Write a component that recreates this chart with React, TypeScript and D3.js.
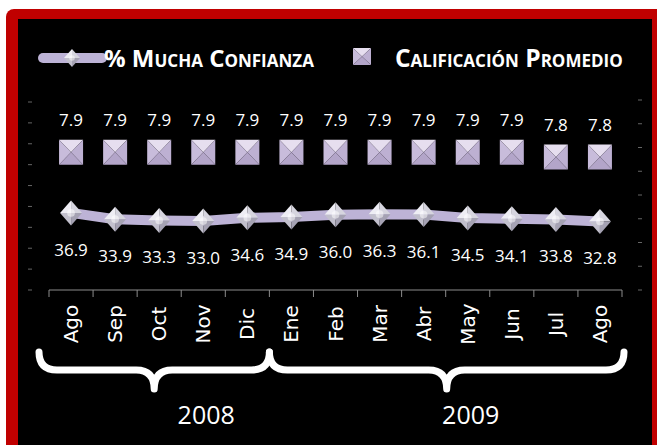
import React from 'react';
import * as d3 from 'd3';

const months = ['Ago', 'Sep', 'Oct', 'Nov', 'Dic', 'Ene', 'Feb', 'Mar', 'Abr', 'May', 'Jun', 'Jul', 'Ago'];
const muchaConfianza = [36.9, 33.9, 33.3, 33.0, 34.6, 34.9, 36.0, 36.3, 36.1, 34.5, 34.1, 33.8, 32.8];
const calificacion = [7.9, 7.9, 7.9, 7.9, 7.9, 7.9, 7.9, 7.9, 7.9, 7.9, 7.9, 7.8, 7.8];
const years = [
  { label: '2008', from: 0, to: 4, shift: 52 },
  { label: '2009', from: 5, to: 12, shift: 24 },
];

const W = 657;
const H = 445;
const LAV = '#bdb3d6';
const FONT = '"Open Sans", sans-serif';

const Diamond: React.FC<{ cx: number; cy: number; rx: number; ry: number }> = ({ cx, cy, rx, ry }) => (
  <g transform={`translate(${cx},${cy})`}>
    <path d={`M0,${-ry}L${rx},0L0,0Z`} fill="#d6d5df" />
    <path d={`M0,${-ry}L${-rx},0L0,0Z`} fill="#eeedf4" />
    <path d={`M${-rx},0L0,${ry}L0,0Z`} fill="#c2c0cd" />
    <path d={`M${rx},0L0,${ry}L0,0Z`} fill="#a5a2b3" />
    <circle r={rx * 0.35} fill="#ffffff" opacity={0.5} />
  </g>
);

const Pyramid: React.FC<{ cx: number; cy: number; w: number; h: number }> = ({ cx, cy, w, h }) => {
  const x0 = -w / 2, x1 = w / 2, y0 = -h / 2, y1 = h / 2;
  return (
    <g transform={`translate(${cx},${cy})`}>
      <path d={`M${x0},${y0}L${x1},${y0}L0,0Z`} fill="#e6deef" />
      <path d={`M${x0},${y0}L${x0},${y1}L0,0Z`} fill="#c8bcdb" />
      <path d={`M${x1},${y0}L${x1},${y1}L0,0Z`} fill="#bdb0d2" />
      <path d={`M${x0},${y1}L${x1},${y1}L0,0Z`} fill="#b3a5c9" />
    </g>
  );
};

export default function App() {
  const idx = months.map((_, i) => String(i));
  const x = d3.scaleBand<string>().domain(idx).range([49, 622]);
  const y1 = d3.scaleLinear().domain([0, 90]).range([290, 102]);
  const y2 = d3.scaleLinear().domain([5, 9]).range([290, 100]);
  const cx = (i: number) => (x(String(i)) || 0) + x.bandwidth() / 2;

  const line = d3.line<number>()
    .x((_, i) => cx(i))
    .y(d => y1(d));

  const braceTop = 352;
  const braceMid = 370;
  const braceTip = 389;
  const brace = (a: number, b: number) => {
    const t = (a + b) / 2;
    const r = 18;
    return `M${a},${braceTop}Q${a},${braceMid} ${a + r},${braceMid}L${t - r},${braceMid}Q${t},${braceMid} ${t},${braceTip}` +
      `Q${t},${braceMid} ${t + r},${braceMid}L${b - r},${braceMid}Q${b},${braceMid} ${b},${braceTop}`;
  };

  return (
    <svg width={W} height={H} style={{ position: 'absolute', left: 0, top: 0, display: 'block' }}>
      <rect x={0} y={0} width={W} height={H} fill="#ffffff" />
      <rect x={6} y={9} width={W + 10} height={H + 20} rx={8} fill="#c00000" />
      <rect x={18} y={19} width={634} height={H} fill="#000000" />

      {/* legend */}
      <line x1={43} x2={102} y1={58} y2={58} stroke={LAV} strokeWidth={10} strokeLinecap="round" />
      <Diamond cx={72} cy={58} rx={8} ry={9} />
      <text x={104} y={67} fill="#ffffff" fontFamily={FONT} fontWeight="bold" fontSize={24} style={{ fontVariant: 'small-caps' }}>
        % Mucha Confianza
      </text>
      <Pyramid cx={362} cy={56.5} w={18} h={17} />
      <text x={395} y={67} fill="#ffffff" fontFamily={FONT} fontWeight="bold" fontSize={24.5} style={{ fontVariant: 'small-caps' }}>
        Calificación Promedio
      </text>

      {/* axis ticks */}
      {y1.ticks(9).map(t => (
        <line key={'l' + t} x1={28} x2={32} y1={y1(t)} y2={y1(t)} stroke="#666" strokeWidth={1} />
      ))}
      {d3.range(5, 9.01, 0.5).map(t => (
        <line key={'r' + t} x1={638} x2={642} y1={y2(t)} y2={y2(t)} stroke="#666" strokeWidth={1} />
      ))}
      <line x1={49} x2={622} y1={290} y2={290} stroke="#8c8c8c" strokeWidth={1} />
      {d3.range(0, months.length + 1).map(i => (
        <line key={'t' + i} x1={49 + i * x.bandwidth()} x2={49 + i * x.bandwidth()} y1={290} y2={297} stroke="#8c8c8c" strokeWidth={1} />
      ))}

      {/* line series */}
      <path d={line(muchaConfianza) || ''} fill="none" stroke={LAV} strokeWidth={10} strokeLinejoin="round" />
      {muchaConfianza.map((v, i) => (
        <g key={'d' + i}>
          <Diamond cx={cx(i)} cy={y1(v)} rx={11} ry={12.5} />
          <text x={cx(i)} y={y1(v) + 43} fill="#ffffff" fontFamily={FONT} fontSize={17} textAnchor="middle">
            {v.toFixed(1)}
          </text>
        </g>
      ))}

      {/* square series */}
      {calificacion.map((v, i) => (
        <g key={'s' + i}>
          <Pyramid cx={cx(i)} cy={y2(v)} w={24} h={25} />
          <text x={cx(i)} y={y2(v) - 26} fill="#ffffff" fontFamily={FONT} fontSize={17} textAnchor="middle">
            {v.toFixed(1)}
          </text>
        </g>
      ))}

      {/* month labels */}
      {months.map((m, i) => (
        <text key={'m' + i} transform={`translate(${cx(i)},324) rotate(-90)`} dy="0.35em" fill="#ffffff"
          fontFamily='"DejaVu Sans", sans-serif' fontSize={20} textAnchor="middle">
          {m}
        </text>
      ))}

      {/* year braces */}
      {years.map(yr => {
        const a = (x(String(yr.from)) || 0) - (yr.from === 0 ? 10 : 0);
        const b = (x(String(yr.to)) || 0) + x.bandwidth() + (yr.to === months.length - 1 ? 2 : 0);
        return (
          <g key={yr.label}>
            <path d={brace(a, b)} fill="none" stroke="#ffffff" strokeWidth={7} strokeLinecap="round" strokeLinejoin="round" />
            <text x={(a + b) / 2 + yr.shift} y={424} fill="#ffffff" fontFamily={FONT} fontSize={25} textAnchor="middle">
              {yr.label}
            </text>
          </g>
        );
      })}
    </svg>
  );
}
